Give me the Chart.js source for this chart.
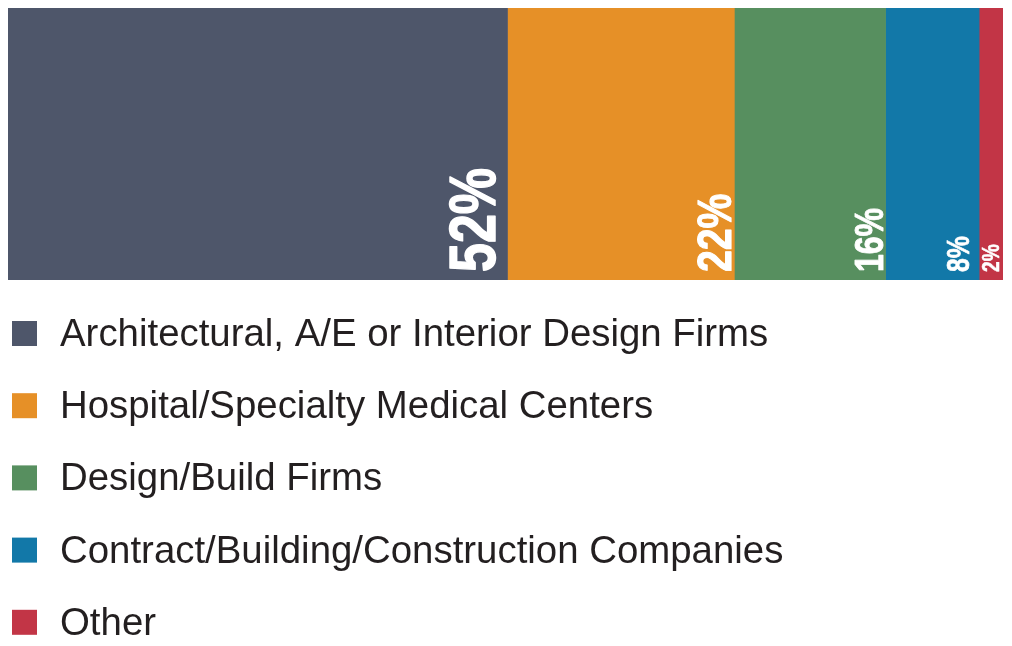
<!DOCTYPE html>
<html>
<head>
<meta charset="utf-8">
<script src="https://cdn.jsdelivr.net/npm/chart.js@4/dist/chart.umd.min.js"></script>
<style>
  html, body { margin: 0; padding: 0; background: #ffffff; }
  #wrap { position: relative; width: 1012px; height: 646px; }
</style>
</head>
<body>
<div id="wrap"><canvas id="shareChart"></canvas></div>
<script>
// Data for the chart
const categories = ["Respondents"];
const seriesLabels = [
  "Architectural, A/E or Interior Design Firms",
  "Hospital/Specialty Medical Centers",
  "Design/Build Firms",
  "Contract/Building/Construction Companies",
  "Other",
];
// segment widths as drawn in the picture (share of the full bar)
const seriesValues = [50.2, 22.8, 15.2, 9.4, 2.4];
// printed percentages
const valueLabels = ["52%", "22%", "16%", "8%", "2%"];
const seriesColors = ["#4e566a", "#e69027", "#578f5f", "#1278a8", "#c23546"];

// Label styling (font size and inset from the right end of each segment)
const labelSizes = [65, 49, 40, 31, 24];
const labelInsets = [12, 3, 3, 10, 4];

// Rotated percentage labels inside each segment
const segmentLabels = {
  id: "segmentLabels",
  afterDatasetsDraw(chart) {
    const ctx = chart.ctx;
    chart.data.datasets.forEach((ds, i) => {
      const bar = chart.getDatasetMeta(i).data[0];
      const bottom = bar.y + bar.height / 2;
      ctx.save();
      ctx.translate(bar.x - labelInsets[i], bottom - 8);
      ctx.rotate(-Math.PI / 2);
      ctx.scale(0.8, 1); // narrow the glyphs like a condensed face
      ctx.font = "bold " + labelSizes[i] + "px 'Liberation Sans', Arial, sans-serif";
      ctx.fillStyle = "#ffffff";
      ctx.strokeStyle = "#ffffff";
      ctx.lineWidth = labelSizes[i] / 45; // a touch heavier, like the original face
      ctx.lineJoin = "round";
      ctx.textAlign = "left";
      ctx.textBaseline = "alphabetic";
      ctx.fillText(valueLabels[i], 0, 0);
      ctx.strokeText(valueLabels[i], 0, 0);
      ctx.restore();
    });
  },
};

// Legend drawn as a list under the bar
const listLegend = {
  id: "listLegend",
  afterDraw(chart) {
    const ctx = chart.ctx;
    ctx.save();
    chart.data.datasets.forEach((ds, i) => {
      const top = 321 + i * 72.2;
      ctx.fillStyle = ds.backgroundColor;
      ctx.fillRect(12, top, 25, 25);
      ctx.fillStyle = "#231f20";
      ctx.font = "38.4px 'Liberation Sans', Arial, sans-serif";
      ctx.textAlign = "left";
      ctx.textBaseline = "alphabetic";
      ctx.fillText(ds.label, 60, top + 25);
    });
    ctx.restore();
  },
};

function buatChart() {
  const ctx = document.getElementById("shareChart").getContext("2d");
  new Chart(ctx, {
    type: "bar",
    data: {
      labels: categories,
      datasets: seriesLabels.map((label, i) => ({
        label: label,
        data: [seriesValues[i]],
        backgroundColor: seriesColors[i],
        borderWidth: 0,
        barPercentage: 1,
        categoryPercentage: 1,
      })),
    },
    options: {
      indexAxis: "y",
      responsive: true,
      maintainAspectRatio: false,
      devicePixelRatio: 1,
      animation: false,
      layout: {
        padding: { left: 8, right: 9, top: 8, bottom: 366 },
      },
      plugins: {
        legend: { display: false },
        tooltip: { enabled: false },
      },
      scales: {
        x: { stacked: true, min: 0, max: 100, display: false },
        y: { stacked: true, display: false },
      },
    },
    plugins: [segmentLabels, listLegend],
  });
}

document.addEventListener("DOMContentLoaded", buatChart);
</script>
</body>
</html>
